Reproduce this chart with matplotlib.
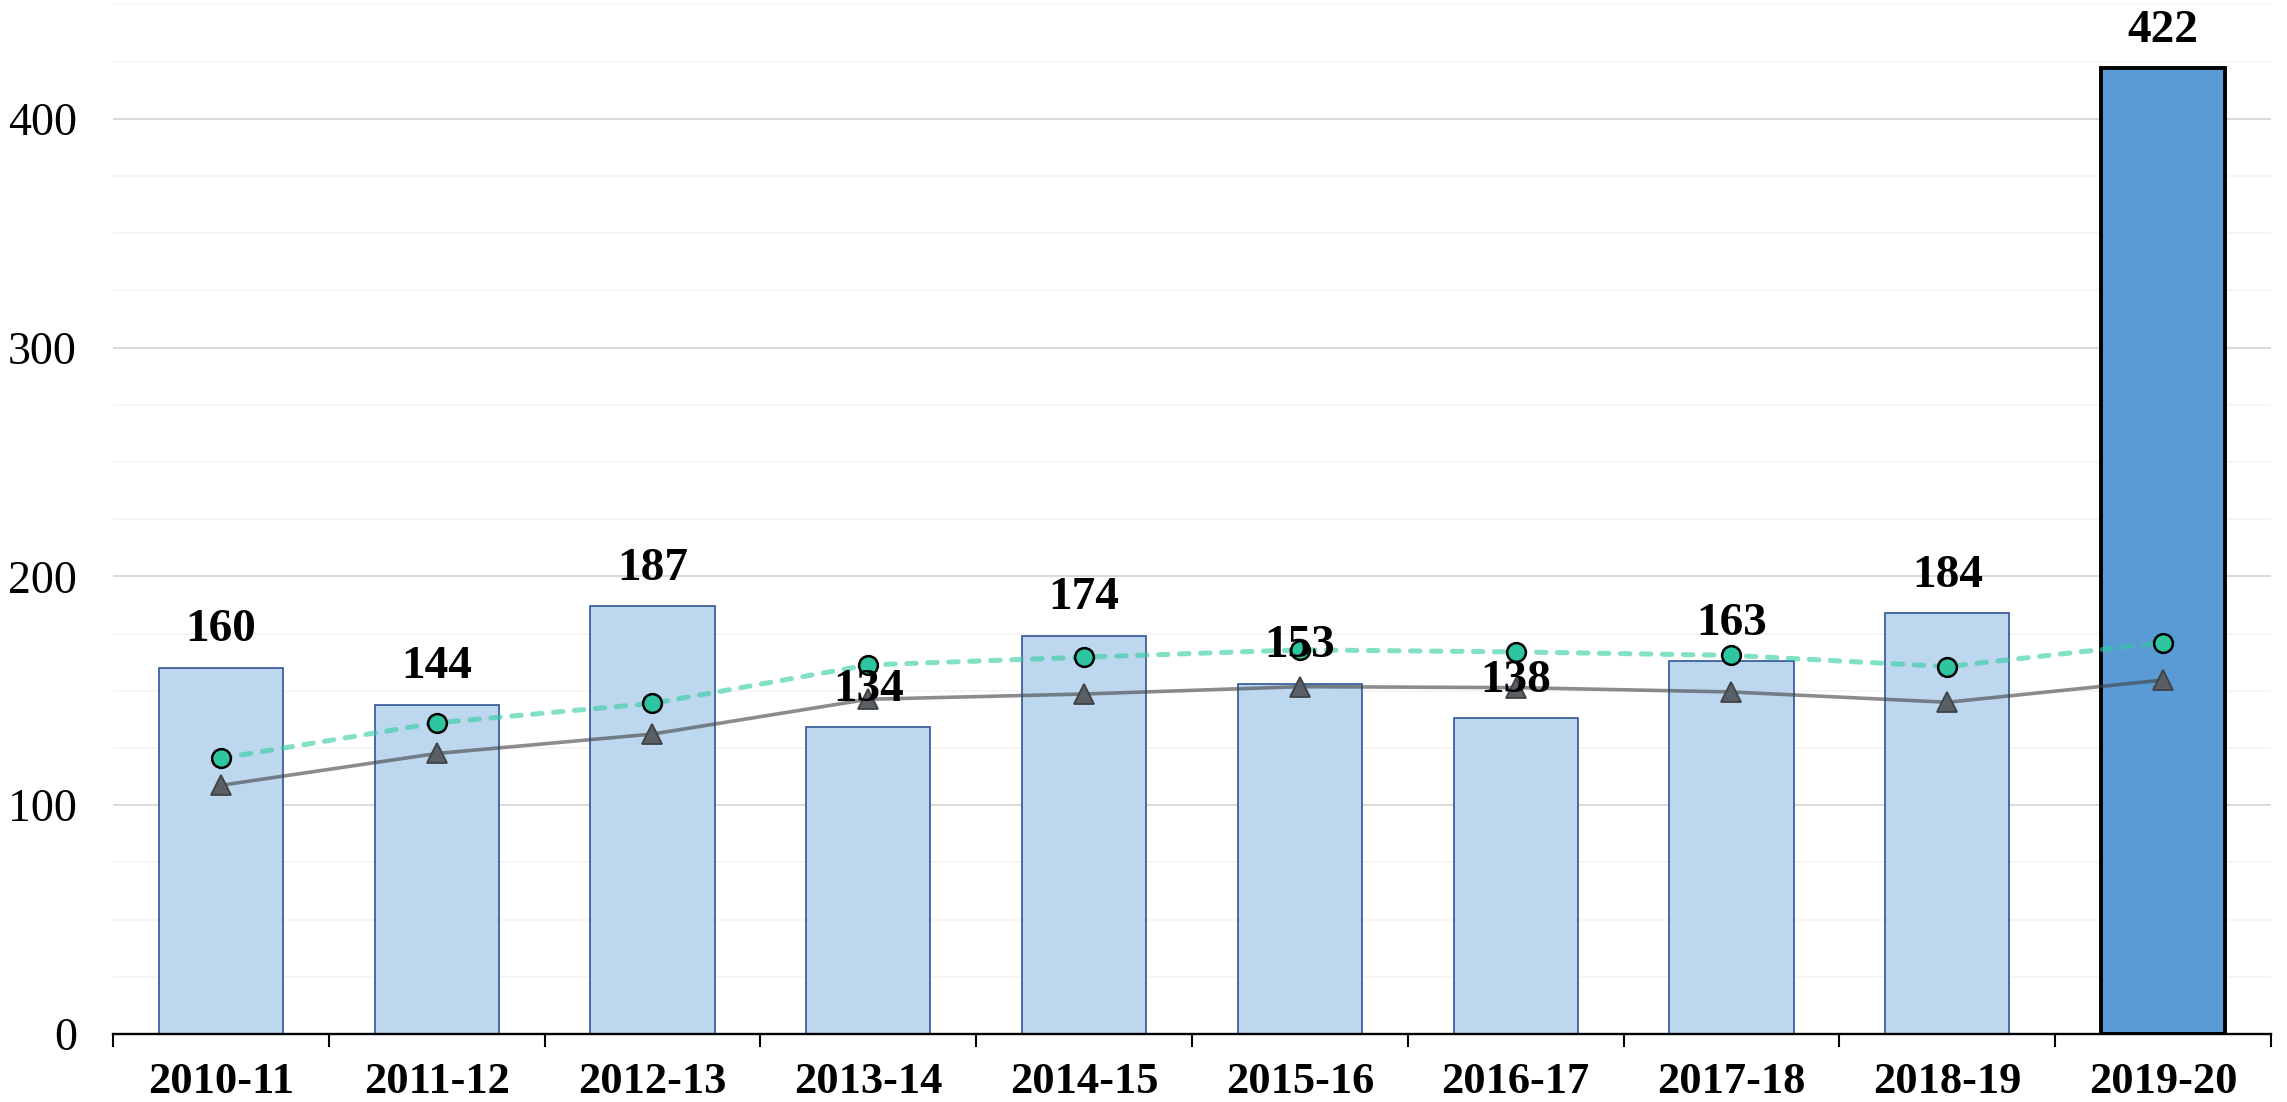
import matplotlib
matplotlib.use('Agg')
import matplotlib.pyplot as plt
from matplotlib.ticker import MultipleLocator
import numpy as np

# data
years = ['2010-11', '2011-12', '2012-13', '2013-14', '2014-15',
         '2015-16', '2016-17', '2017-18', '2018-19', '2019-20']
counts = [160, 144, 187, 134, 174, 153, 138, 163, 184, 422]
avg_circle = [120.5, 136, 144.5, 161.3, 164.7, 167.9, 167, 165.5, 160.6, 171]
avg_triangle = [108.7, 122.6, 131.1, 146.3, 148.6, 151.8, 151.4, 149.5, 145, 154.7]

plt.rcParams['font.family'] = ['Liberation Serif', 'DejaVu Serif']

fig = plt.figure(figsize=(22.87, 11.02), dpi=100)
ax = fig.add_axes([0.0494, 0.0617, 0.9436, 0.9343])

x = np.arange(len(years))
face = ['#BDD7EE'] * (len(years) - 1) + ['#5B9BD5']
edge = ['#2F5597'] * (len(years) - 1) + ['#000000']
lw = [1.2] * (len(years) - 1) + [2.8]
ax.bar(x, counts, width=0.575, color=face, edgecolor=edge, linewidth=lw, zorder=2)

# dashed teal line with circles, grey line with triangles
ax.plot(x, avg_circle, color='#2ECC9F', alpha=0.6, lw=3.6, dashes=(1.9, 2.3),
        dash_capstyle='round', zorder=3)
ax.plot(x, avg_circle, ls='none', marker='o', ms=13.5, mfc='#2DC6A0', mec='#000000',
        mew=1.8, zorder=4)
ax.plot(x, avg_triangle, color='#404040', alpha=0.6, lw=2.6, zorder=3)
ax.plot(x, avg_triangle, ls='none', marker='^', ms=15, mfc='#5A5F66', mec='#3F4246',
        mew=1.3, zorder=4)

for xi, v in zip(x, counts):
    ax.annotate(str(v), (xi, v), xytext=(0, 27), textcoords='offset points',
                ha='center', va='center', fontsize=34, fontweight='bold', zorder=5)

ax.set_xlim(-0.5, len(years) - 0.5)
ax.set_ylim(0, 450)
ax.yaxis.set_major_locator(MultipleLocator(100))
ax.yaxis.set_minor_locator(MultipleLocator(25))
ax.grid(axis='y', which='major', color='#D9D9D9', lw=1.4, zorder=0)
ax.grid(axis='y', which='minor', color='#F2F2F2', lw=1.1, zorder=0)
ax.set_axisbelow(True)

for s in ['left', 'right', 'top']:
    ax.spines[s].set_visible(False)
ax.spines['bottom'].set_linewidth(1.7)
ax.spines['bottom'].set_zorder(6)

ax.set_xticks(x)
ax.set_xticklabels(years, fontsize=32, fontweight='bold')
ax.set_xticks(np.arange(len(years) + 1) - 0.5, minor=True)
ax.tick_params(axis='x', which='major', length=0, pad=20)
ax.tick_params(axis='x', which='minor', length=9, width=1.5, direction='out')
ax.tick_params(axis='y', which='both', length=0, labelsize=33, pad=26)

fig.savefig('out.png', dpi=100)
